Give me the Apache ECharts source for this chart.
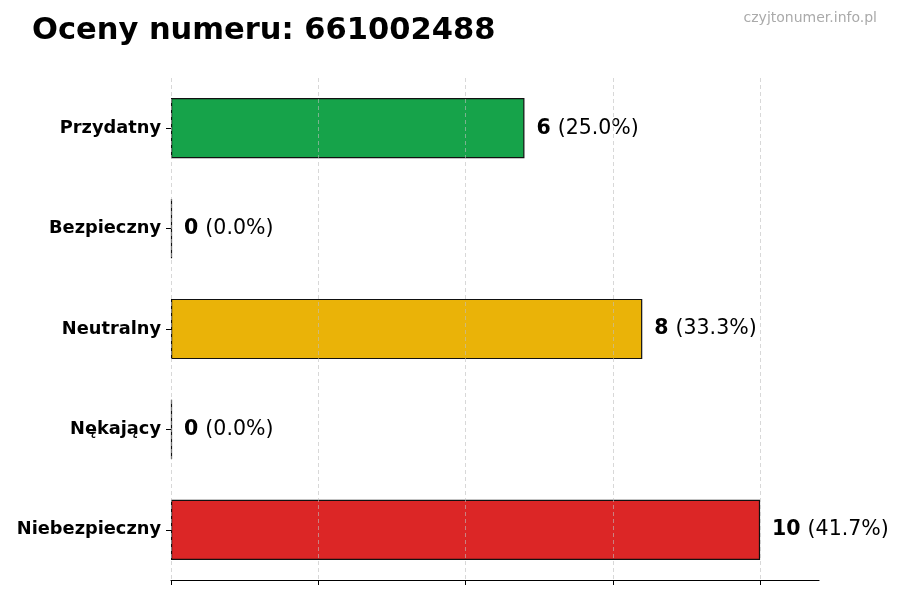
<!DOCTYPE html>
<html><head><meta charset="utf-8">
<script src="https://cdn.jsdelivr.net/npm/echarts@6/dist/echarts.min.js"></script>
<style>html,body{margin:0;padding:0;background:#fff}#c{width:900px;height:600px}</style>
</head><body><div id="c"></div>
<script>
const categories = ["Przydatny", "Bezpieczny", "Neutralny", "Nękający", "Niebezpieczny"];
const counts = [6, 0, 8, 0, 10];
const percents = ["25.0%", "0.0%", "33.3%", "0.0%", "41.7%"];
const barColors = ["#16a34a", "#16a34a", "#eab308", "#dc2626", "#dc2626"];
const tickValues = [0, 2.5, 5, 7.5, 10];

const chart = echarts.init(document.getElementById('c'), null, {renderer: 'canvas'});
chart.setOption({
  animation: false,
  backgroundColor: '#fff',
  title: [
    {text: 'Oceny numeru: 661002488', left: 27, top: 11,
     textStyle: {fontFamily: 'DejaVu Sans', fontWeight: 'bold', fontSize: 30.5, color: '#000'}},
    {text: 'czyjtonumer.info.pl', right: 18, top: 6,
     textStyle: {fontFamily: 'DejaVu Sans', fontWeight: 'normal', fontSize: 14, color: '#aaaaaa'}}
  ],
  grid: {left: 171, right: 81, top: 78, bottom: 20, containLabel: false},
  xAxis: {
    type: 'value', min: 0, max: 11, interval: 2.5,
    axisLine: {show: true, lineStyle: {color: '#000', width: 1.2}},
    axisTick: {show: true, length: 5, lineStyle: {color: '#000'}, customValues: tickValues},
    axisLabel: {show: false},
    splitLine: {show: false}
  },
  yAxis: {
    type: 'category', inverse: true, data: categories,
    axisLine: {show: false},
    axisTick: {show: true, alignWithLabel: true, length: 5, lineStyle: {color: '#000'}},
    axisLabel: {fontFamily: 'DejaVu Sans', fontWeight: 'bold', fontSize: 17.8, color: '#000', margin: 10, padding: [3, 0, 0, 0]}
  },
  series: [{
    type: 'bar',
    data: counts.map((v, i) => ({value: v, itemStyle: {color: barColors[i]}})),
    barCategoryGap: '40%',
    barMinHeight: 1,
    itemStyle: {borderColor: '#111', borderWidth: 1.2},
    label: {
      show: true, position: 'right', distance: 12,
      formatter: p => '{b|' + counts[p.dataIndex] + '}{n|(' + percents[p.dataIndex] + ')}',
      rich: {
        b: {fontFamily: 'DejaVu Sans', fontWeight: 'bold', fontSize: 20.5, color: '#000', padding: [0, 7, 0, 0]},
        n: {fontFamily: 'DejaVu Sans', fontWeight: 'normal', fontSize: 20.5, color: '#000'}
      }
    },
    markLine: {
      silent: true, symbol: 'none', label: {show: false},
      lineStyle: {color: 'rgba(190,190,190,0.6)', type: [4, 3], width: 1},
      data: tickValues.map(t => ({xAxis: t}))
    }
  }]
});
</script></body></html>
